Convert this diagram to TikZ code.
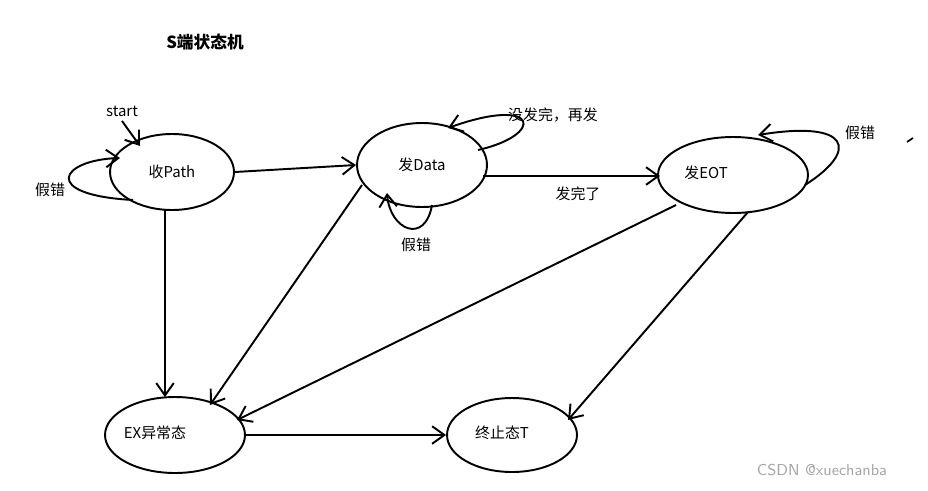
\documentclass[tikz,border=0pt]{standalone}
\usepackage{fontspec}
\setmainfont{Liberation Serif}
\newfontfamily\cjk{Noto Sans CJK SC}
\usetikzlibrary{arrows.meta,shapes.geometric}
\begin{document}
\begin{tikzpicture}[x=0.02cm,y=-0.02cm,
  st/.style={draw,ellipse,line width=1.1pt,inner sep=0pt},
  lab/.style={font=\cjk\fontsize{8.5}{10}\selectfont},
  ar/.style={line width=1.1pt,-{Straight Barb[length=7pt,width=10pt,line width=1.1pt]}}]
\useasboundingbox (0,0) rectangle (928,490);
\node[st, minimum width=2.48cm, minimum height=1.52cm] (p) at (172,172) {};
\node[lab] at (172,172) {收Path};
\node[st, minimum width=2.6cm, minimum height=1.68cm] (d) at (422,165) {};
\node[lab] at (422,165) {发Data};
\node[st, minimum width=3.0cm, minimum height=1.52cm] (e) at (733,175) {};
\node[lab] at (706,173) {发EOT};
\node[st, minimum width=2.8cm, minimum height=1.52cm] (x) at (175,435) {};
\node[lab] at (155,433) {EX异常态};
\node[st, minimum width=2.6cm, minimum height=1.48cm] (t) at (512,435) {};
\node[lab] at (502,433) {终止态T};
\node[lab,font=\cjk\bfseries\fontsize{9.5}{11}\selectfont] (title) at (205,42) {S端状态机};
\node[lab] (s) at (122,111) {start};
\node[lab] (l1) at (50,190) {假错};
\node[lab] (l2) at (553,115) {没发完，再发};
\node[lab] (l3) at (578,194) {发完了};
\node[lab] (l4) at (416,245) {假错};
\node[lab] (l5) at (860,133) {假错};
\node[font=\sffamily\fontsize{9}{10}\selectfont,text=gray!70] (w) at (822,470) {CSDN @xuechanba};
\coordinate (tk1) at (907,142); \coordinate (tk2) at (913,138);
\draw[line width=1pt] (tk1) -- (tk2);
\coordinate (sa) at (122,121);
\draw[ar] (sa) -- (140,146);
\draw[ar] (p.east) -- (d.west);
\draw[ar] (165,210) -- (165,397);
\draw[ar] (362,185) -- (210,405);
\draw[ar] (483,176) -- (660,176);
\draw[ar] (676,205) -- (237,420);
\draw[ar] (748,212) -- (568,420);
\draw[ar] (x.east) -- (t.west);
\draw[ar] (133,200) .. controls (40,195) and (60,160) .. (120,158);
\draw[ar] (478,150) .. controls (545,135) and (540,95) .. (448,128);
\draw[ar] (432,205) .. controls (425,245) and (390,230) .. (387,193);
\draw[ar] (805,185) .. controls (860,150) and (850,120) .. (758,135);
\end{tikzpicture}
\end{document}
